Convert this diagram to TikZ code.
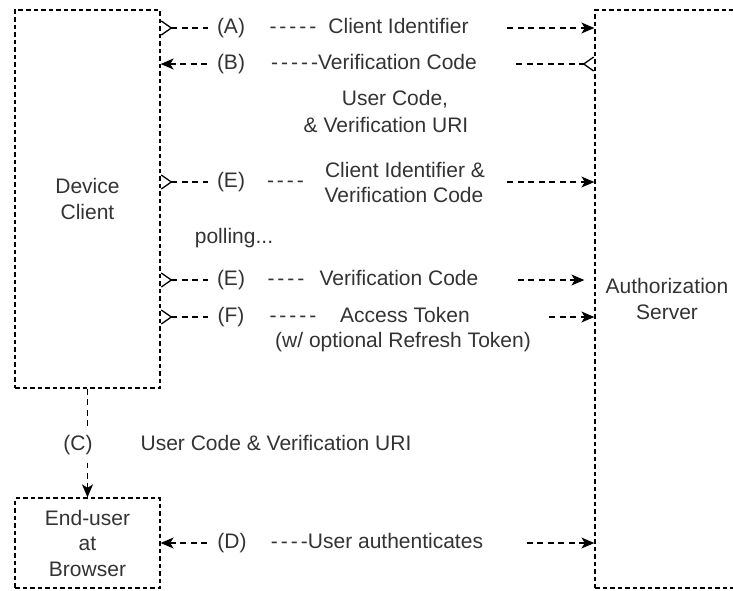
\documentclass[tikz,border=0pt]{standalone}
\usepackage{fontspec}
\setmainfont{Liberation Sans}
\usetikzlibrary{arrows.meta}
\definecolor{ink}{HTML}{333333}
% a hyphen followed by a small kern, so runs of hyphens stay spaced and never ligate
\newcommand{\lhy}{-\kern3pt}

\begin{document}
\begin{tikzpicture}[x=1pt,y=-1pt,
  box/.style={draw=black, line width=1.3pt, dash pattern=on 4.5pt off 3pt,
    rectangle, inner sep=0pt, align=center, text=ink,
    font=\fontsize{21pt}{25.5pt}\selectfont},
  conn/.style={draw=black, line width=1.3pt, dash pattern=on 6pt off 4.5pt},
  fillhead/.tip={Stealth[length=13pt,width=11pt,inset=3.5pt]},
  openhead/.tip={Straight Barb[length=10pt,width=14pt,reversed]},
  gap/.style={fill=white, inner sep=0pt, minimum height=7pt},
  txt/.style={text=ink, inner sep=0pt, font=\fontsize{21pt}{25.5pt}\selectfont,
    text height=15pt, text depth=4pt},
]
\useasboundingbox (0,0) rectangle (733,590);
\clip (0,0) rectangle (733,590);

% participants
\node[box, minimum width=145pt, minimum height=378pt] (dev) at (87.5,199) {Device\\Client};
\node[box, minimum width=144pt, minimum height=578pt] (auth) at (667,299) {Authorization\\Server};
\node[box, minimum width=145pt, minimum height=90pt] (brw) at (87.5,543) {End-user\\at\\Browser};

% message flows
\draw[conn, openhead-fillhead] (dev.east |- 0,28) -- (auth.west |- 0,28);
\draw[conn, fillhead-openhead] (dev.east |- 0,64) -- (auth.west |- 0,64);
\draw[conn, openhead-fillhead] (dev.east |- 0,182) -- (auth.west |- 0,182);
\draw[conn, openhead-fillhead, shorten >=10pt] (dev.east |- 0,280) -- (auth.west |- 0,280);
\draw[conn, openhead-fillhead] (dev.east |- 0,317) -- (auth.west |- 0,317);
\draw[conn, -fillhead] (dev.south) -- (brw.north);
\draw[conn, fillhead-fillhead] (brw.east |- 0,543) -- (auth.west |- 0,543);

% white bands behind the flow labels
\node[gap, minimum width=295pt] (gA) at (355.5,28) {};
\node[gap, minimum width=305pt] (gB) at (360.5,64) {};
\node[gap, minimum width=295pt] (gE1) at (355.5,182) {};
\node[gap, minimum width=305pt] (gE2) at (360.5,280) {};
\node[gap, minimum width=340pt] (gF) at (378,317) {};
\node[gap, minimum width=314pt] (gD) at (365,543) {};

% (A)
\node[txt] (lA) at (231,28) {(A)};
\node[txt] (dA) at (293,28) {\lhy\lhy\lhy\lhy-};
\node[txt] (tA) at (398.5,28) {Client Identifier};
% (B)
\node[txt] (lB) at (231,64) {(B)};
\node[txt] (tB) at (374,64) {\lhy\lhy\lhy\lhy-Verification Code};
\node[txt] (tB2) at (395,100) {User Code,};
\node[txt] (tB3) at (386,127) {\& Verification URI};
% (E) first request
\node[txt] (lE1) at (231,182) {(E)};
\node[txt] (dE1) at (285.5,182) {\lhy\lhy\lhy-};
\node[txt] (tE1) at (405,172) {Client Identifier \&};
\node[txt] (tE1b) at (404,197) {Verification Code};
\node[txt] (poll) at (234,238) {polling...};
% (E) polling request
\node[txt] (lE2) at (231,280) {(E)};
\node[txt] (dE2) at (286,280) {\lhy\lhy\lhy-};
\node[txt] (tE2) at (399,280) {Verification Code};
% (F)
\node[txt] (lF) at (231,317) {(F)};
\node[txt] (dF) at (293,317) {\lhy\lhy\lhy\lhy-};
\node[txt] (tF) at (405,317) {Access Token};
\node[txt] (tF2) at (403,342) {(w/ optional Refresh Token)};
% (C)
\node[txt, fill=white, minimum height=36pt] (lC) at (78,445) {(C)};
\node[txt] (tC) at (276,445) {User Code \& Verification URI};
% (D)
\node[txt] (lD) at (232,543) {(D)};
\node[txt] (tD) at (377,543) {\lhy\lhy\lhy-User authenticates};
\end{tikzpicture}
\end{document}
